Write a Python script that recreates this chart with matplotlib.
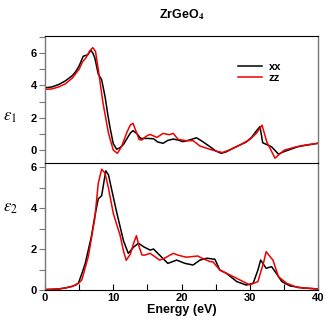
import matplotlib
matplotlib.use("Agg")
import matplotlib.pyplot as plt
from matplotlib.ticker import MultipleLocator

# ---- data ----
e1_xx_E = [0, 1, 2, 3, 4, 4.5, 5, 5.3, 5.6, 6.0, 6.3, 6.7, 7.0, 7.3, 7.8, 8.3, 8.8, 9.2, 9.5, 10, 10.5, 11,
           11.5, 12, 12.5, 12.9, 13.5, 14, 15, 15.9, 16.5, 17.3, 18, 18.8, 19.5, 20.2, 21, 22.2, 23, 24.2, 25,
           25.8, 26.5, 27.5, 28.5, 29.5, 30.3, 31, 31.5, 31.9, 32.7, 33.2, 34.2, 35, 36, 37, 38, 39, 40]
e1_xx_V = [3.85, 3.9, 4.05, 4.28, 4.6, 4.85, 5.2, 5.5, 5.8, 5.85, 5.9, 6.17, 6.0, 5.7, 4.7, 4.35, 3.3, 2.2,
           1.45, 0.4, 0.05, 0.15, 0.35, 0.7, 1.05, 1.2, 1.0, 0.72, 0.72, 0.7, 0.5, 0.42, 0.6, 0.68, 0.62, 0.52,
           0.6, 0.76, 0.55, 0.2, -0.05, -0.2, -0.12, 0.1, 0.3, 0.5, 0.8, 1.2, 1.45, 0.45, 0.3, 0.2, -0.25,
           -0.1, 0.05, 0.2, 0.28, 0.35, 0.42]

e1_zz_E = [0, 1, 2, 3, 4, 5, 5.5, 6, 6.5, 7.0, 7.4, 7.8, 8.5, 9.3, 10, 10.6, 11.2, 12, 12.5, 12.9, 13.3,
           13.8, 14.2, 14.8, 15.4, 16.4, 17.3, 18.2, 18.8, 19.5, 20.7, 21.7, 22.7, 24.2, 25.4, 26, 27, 28.5,
           30, 31, 31.8, 32.5, 33.7, 34.5, 35.1, 36.8, 38, 40]
e1_zz_V = [3.75, 3.78, 3.9, 4.1, 4.45, 5.0, 5.45, 5.7, 6.1, 6.33, 6.1, 5.0, 2.9, 1.05, 0.0, -0.2, 0.2, 1.1,
           1.55, 1.65, 1.2, 0.65, 0.62, 0.85, 0.97, 0.78, 1.03, 0.95, 1.03, 0.66, 0.58, 0.58, 0.25, 0.04,
           -0.1, -0.15, 0.0, 0.3, 0.65, 1.05, 1.54, 0.5, -0.5, -0.2, 0.0, 0.2, 0.3, 0.42]

e2_xx_E = [0, 2, 3, 4, 4.5, 4.9, 5.4, 5.9, 6.8, 7.3, 7.8, 8.3, 8.9, 9.3, 10, 10.5, 11, 11.5, 12.2, 13, 13.7,
           14.5, 15.4, 15.9, 16.8, 18, 19.3, 20.5, 21.7, 22.7, 23.7, 24.9, 25.6, 26.6, 28.1, 29.5, 30.5,
           31.2, 31.6, 32.4, 33.2, 33.9, 34.7, 35.9, 37.8, 40]
e2_xx_V = [0.02, 0.05, 0.1, 0.18, 0.25, 0.34, 0.8, 1.3, 2.62, 3.6, 4.45, 4.6, 5.82, 5.62, 4.55, 3.8, 3.1,
           2.4, 1.79, 2.1, 2.28, 2.1, 1.95, 2.0, 1.7, 1.3, 1.46, 1.3, 1.22, 1.46, 1.55, 1.5, 0.98, 0.81,
           0.41, 0.24, 0.33, 0.98, 1.46, 1.06, 1.14, 0.81, 0.41, 0.2, 0.1, 0.05]

e2_zz_E = [0, 2, 3, 4, 4.5, 5, 5.4, 6.35, 7.3, 7.8, 8.3, 8.8, 9.3, 10, 10.5, 11, 11.5, 11.9, 12.5, 13, 13.4,
           13.8, 14.2, 14.6, 15.4, 16, 16.8, 17.5, 18.8, 19.5, 20.7, 21.2, 22.4, 22.7, 24.2, 24.6, 25.6,
           27.6, 30, 31.2, 31.7, 32, 32.4, 32.9, 33.4, 34.2, 35.4, 37, 40]
e2_zz_V = [0.02, 0.05, 0.1, 0.18, 0.25, 0.35, 0.5, 1.64, 3.5, 5.2, 5.9, 5.7, 4.97, 3.75, 3.2, 2.68, 1.9,
           1.45, 1.75, 2.3, 2.65, 2.1, 1.71, 1.7, 1.79, 1.65, 1.46, 1.55, 1.79, 1.7, 1.6, 1.62, 1.66, 1.6,
           1.38, 1.38, 0.98, 0.65, 0.25, 0.41, 0.98, 1.3, 1.87, 1.66, 1.46, 0.65, 0.33, 0.12, 0.05]

series_labels = ["xx", "zz"]
x_ticks = [0, 10, 20, 30, 40]
y1_ticks = [0, 2, 4, 6]
y2_ticks = [0, 2, 4, 6]

# ---- style ----
plt.rcParams['font.family'] = ['Liberation Sans', 'DejaVu Sans']
plt.rcParams['mathtext.fontset'] = 'stix'
W = 327
fig = plt.figure(figsize=(W / 100, W / 100), dpi=100)
L, R = 45 / W, 318 / W
ax1 = fig.add_axes([L, 1 - 163 / W, R - L, 127 / W])
ax2 = fig.add_axes([L, 1 - 290 / W, R - L, 127 / W])

lw = 1.1
ax1.plot(e1_xx_E, e1_xx_V, color='black', lw=lw, label=series_labels[0])
ax1.plot(e1_zz_E, e1_zz_V, color='#ee0000', lw=lw, label=series_labels[1])
ax2.plot(e2_xx_E, e2_xx_V, color='black', lw=lw)
ax2.plot(e2_zz_E, e2_zz_V, color='#ee0000', lw=lw)

ax1.set_xlim(0, 40)
ax2.set_xlim(0, 40)
ax1.set_ylim(-0.8, 7.05)
ax2.set_ylim(0, 6.2)

gray = '#777777'
for ax, yt in ((ax1, y1_ticks), (ax2, y2_ticks)):
    ax.set_yticks(yt)
    ax.yaxis.set_minor_locator(MultipleLocator(1))
    ax.tick_params(axis='y', which='both', direction='out', length=4, width=0.8, color=gray,
                   labelsize=8, pad=2)
    for t in ax.get_yticklabels():
        t.set_fontweight('bold')
    ax.spines['left'].set_color(gray)
    ax.spines['right'].set_color(gray)
    ax.spines['left'].set_linewidth(1.0)
    ax.spines['right'].set_linewidth(1.0)

ax1.spines['bottom'].set_visible(False)
ax1.tick_params(axis='x', which='both', bottom=False, labelbottom=False)

ax2.set_xticks(x_ticks)
ax2.xaxis.set_minor_locator(MultipleLocator(5))
ax2.tick_params(axis='x', which='both', direction='in', length=4, width=0.8, labelsize=8, pad=2)
for t in ax2.get_xticklabels():
    t.set_fontweight('bold')
ax2.set_xlabel('Energy (eV)', fontsize=9, fontweight='bold', labelpad=1)

fig.text(10 / W, 1 - 117 / W, r'$\varepsilon_1$', fontsize=12, ha='center', va='center')
fig.text(10 / W, 1 - 208 / W, r'$\varepsilon_2$', fontsize=12, ha='center', va='center')

fig.text(182 / W, 1 - 15 / W, r'ZrGeO$_\mathbf{4}$', fontsize=9, fontweight='bold', ha='center', va='center')

leg = ax1.legend(loc='upper left', bbox_to_anchor=(0.69, 0.83), frameon=False, fontsize=8,
                 handlelength=2.2, handletextpad=0.6, labelspacing=0.05, borderaxespad=0)
for t in leg.get_texts():
    t.set_fontweight('bold')

fig.savefig('out.png', dpi=100)
